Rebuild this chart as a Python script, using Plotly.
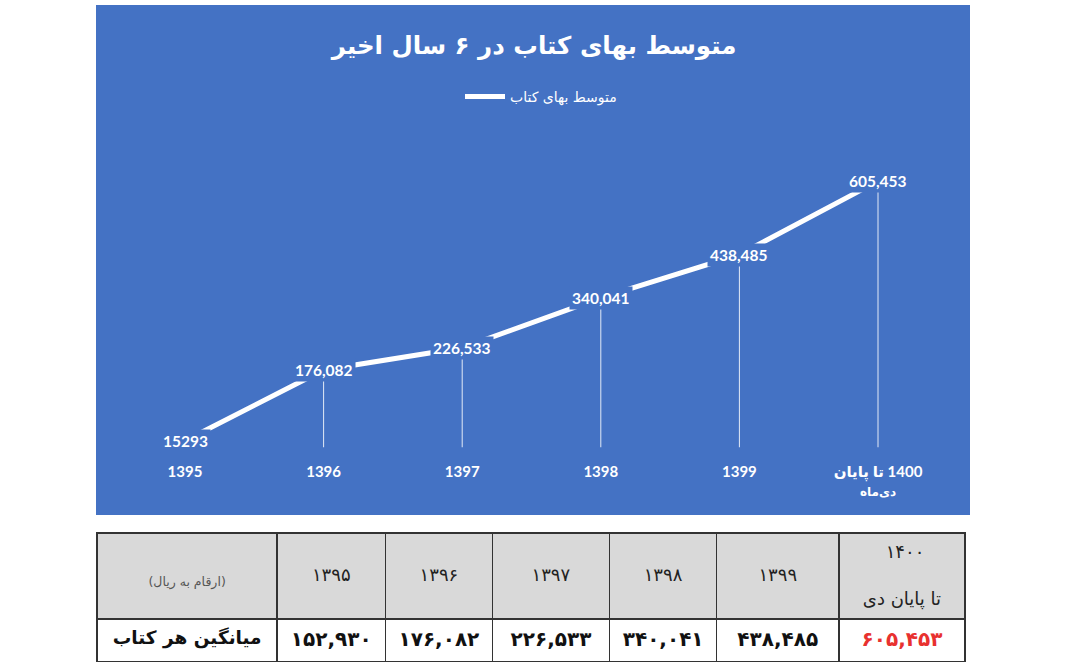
import plotly.graph_objects as go

# ---------------- data ----------------
years = ["1395", "1396", "1397", "1398", "1399", "1400"]
year_ticks = ["1395", "1396", "1397", "1398", "1399",
              "\u200F1400 تا پایان<br><span style='font-size:12px'>دی‌ماه</span>"]
avg_price = [15293, 176082, 226533, 340041, 438485, 605453]
point_labels = ["15293", "176,082", "226,533", "340,041", "438,485", "605,453"]

table_years = ["۱۳۹۵", "۱۳۹۶", "۱۳۹۷", "۱۳۹۸", "۱۳۹۹", "۱۴۰۰", "تا پایان دی"]
table_values = [152930, 176082, 226533, 340041, 438485, 605453]
table_corner = "(ارقام به ریال)"
table_row_label = "میانگین هر کتاب"

title_text = "متوسط بهای کتاب در ۶ سال اخیر"
series_name = "متوسط بهای کتاب"

BLUE = "#4472C4"
W, H = 1070, 670
SP = "\u00A0"

def fa_digits(s):
    return s.translate(str.maketrans("0123456789", "۰۱۲۳۴۵۶۷۸۹"))

fig = go.Figure()

fig.add_trace(go.Scatter(
    x=years, y=avg_price, mode="lines", name=series_name,
    line=dict(color="white", width=5),
    error_y=dict(type="data", symmetric=False,
                 array=[0] * len(avg_price), arrayminus=avg_price,
                 color="rgba(255,255,255,0.85)", thickness=1, width=0),
    hoverinfo="skip",
))

for i, (yv, lab) in enumerate(zip(avg_price, point_labels)):
    fig.add_annotation(x=i, y=yv, xref="x", yref="y", text=f"<b>{lab}</b>",
                       showarrow=False, bgcolor=BLUE, borderpad=2,
                       font=dict(family="Lato, DejaVu Sans", size=15.5, color="white"))

header_vals = ([SP + "<br>" + SP + "<br>" + table_corner]
               + [SP + "<br>" + y for y in table_years[:5]]
               + [SP * 4 + table_years[5] + "<br>" + SP + "<br>" + table_years[6]])

fig.add_trace(go.Table(
    domain=dict(x=[97 / W, 965 / W], y=[(H - 662) / H, (H - 533) / H]),
    columnwidth=[180, 108, 107, 117, 107, 122, 126],
    header=dict(
        values=header_vals,
        fill_color="#D9D9D9",
        line=dict(color="#333333", width=1.5),
        align="center", height=86,
        font=dict(family="DejaVu Sans", size=[12.5] + [18] * 6,
                  color=["#555555"] + ["#222222"] * 6),
    ),
    cells=dict(
        values=[[f"<b>{table_row_label}</b>"]] + [[f"<b>{fa_digits(f'{v:,}')}</b>"] for v in table_values],
        fill_color="white",
        line=dict(color="#333333", width=1.5),
        align="center", height=43,
        font=dict(family="DejaVu Sans", size=[18.5] + [20] * 6,
                  color=["#111111"] * 6 + ["#E8312F"]),
    ),
))

fig.update_layout(
    width=W, height=H,
    margin=dict(l=0, r=0, t=0, b=0),
    paper_bgcolor="white", plot_bgcolor=BLUE,
    showlegend=True,
    legend=dict(orientation="h", x=541 / W, y=(H - 97) / H, xanchor="center", yanchor="middle",
                bgcolor="rgba(0,0,0,0)", itemwidth=40,
                font=dict(family="DejaVu Sans", size=14, color="white")),
    title=dict(text=f"<b>{title_text}</b>", x=534 / W, y=(H - 45) / H,
               xanchor="center", yanchor="middle",
               font=dict(family="DejaVu Sans", size=24.5, color="white")),
    xaxis=dict(domain=[115.7 / W, 947.3 / W], type="category", range=[-0.5, 5.5],
               tickvals=years, ticktext=[f"<b>{t}</b>" for t in year_ticks],
               showgrid=False, zeroline=False, showline=False, ticks="",
               ticklabelstandoff=13,
               tickfont=dict(family="Lato, DejaVu Sans", size=15, color="white")),
    yaxis=dict(domain=[(H - 447.5) / H, (H - 139.5) / H], range=[0, 700000],
               visible=False, showgrid=False, zeroline=False),
    shapes=[dict(type="rect", xref="paper", yref="paper", layer="below",
                 x0=96 / W, x1=970 / W, y0=(H - 515) / H, y1=(H - 5) / H,
                 fillcolor=BLUE, line=dict(width=0))],
)

fig.write_html("out.html", config={"displayModeBar": False},
               post_script="document.body.style.margin='0';")
